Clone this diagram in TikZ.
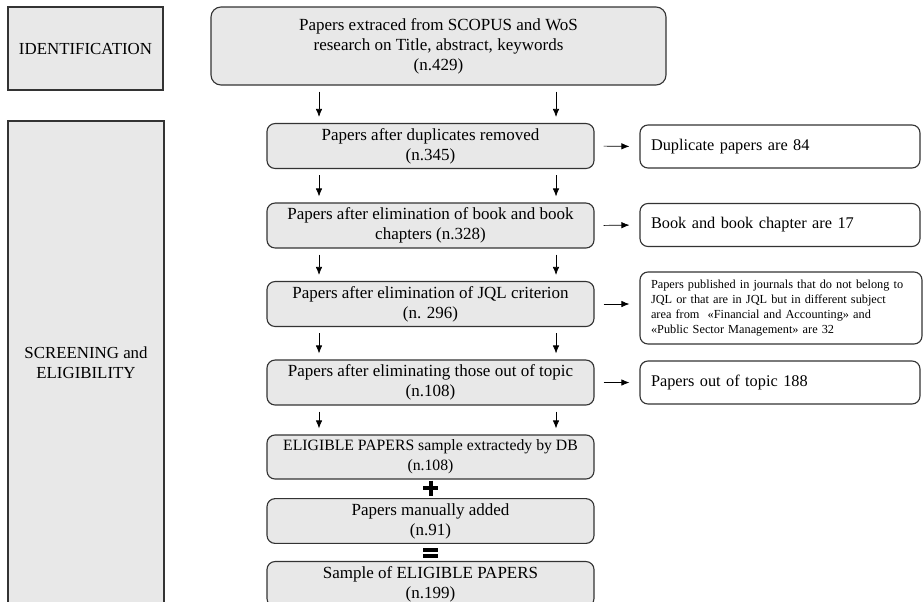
\documentclass[tikz,border=0pt]{standalone}
\usepackage{fontspec}
\setmainfont{Liberation Serif}
\usetikzlibrary{arrows.meta}

\tikzset{
  phase/.style={draw=black!80,
    fill=black!9,
    rectangle,
    line width=0.8pt,
    align=center,
    font=\fontsize{12}{14.2}\selectfont},
  stepbox/.style={draw=black!80,
    fill=black!9,
    rectangle,
    rounded corners=0.2cm,
    line width=0.8pt,
    align=center,
    font=\fontsize{12.1}{14.2}\selectfont,
    minimum width=8.175cm,
    minimum height=1.1cm},
  outbox/.style={draw=black!80,
    fill=white,
    rectangle,
    rounded corners=0.2cm,
    line width=0.8pt,
    align=left,
    inner xsep=0.275cm,
    text width=6.45cm,
    minimum height=1.075cm,
    font=\fontsize{11.6}{14.2}\selectfont},
  arr/.style={-{Latex[length=0.2cm,width=0.16cm]},
    line width=0.5pt,
    shorten <=0.15cm,
    shorten >=0.15cm},
  sidearr/.style={-{Latex[length=0.2cm,width=0.16cm]},
    line width=0.5pt,
    shorten <=0.225cm,
    shorten >=0.25cm}
}

\begin{document}
\begin{tikzpicture}
    \useasboundingbox (0cm,0cm) rectangle (23.1cm,-15.025cm);

    \node[phase,
    minimum width = 3.875cm,
    minimum height = 2.075cm
    ](ident) at (2.1375cm,-1.2125cm) {IDENTIFICATION};

    \node[phase,
    minimum width = 3.9cm,
    minimum height = 12.1cm
    ](screen) at (2.15cm,-9.075cm) {SCREENING and\\ELIGIBILITY};

    \node[stepbox,
    rounded corners=0.25cm,
    minimum width = 11.375cm,
    minimum height = 1.95cm
    ](extract) at (10.9625cm,-1.15cm) {Papers extraced from SCOPUS and WoS\\research on Title, abstract, keywords\\(n.429)};

    \node[stepbox
    ](dup) at (10.7625cm,-3.65cm) {Papers after duplicates removed\\(n.345)};

    \node[stepbox
    ](book) at (10.7625cm,-5.6375cm) {Papers after elimination of book and book\\chapters (n.328)};

    \node[stepbox
    ](jql) at (10.7625cm,-7.6cm) {Papers after elimination of JQL criterion\\(n. 296)};

    \node[stepbox
    ](topic) at (10.7625cm,-9.5625cm) {Papers after eliminating those out of topic\\(n.108)};

    \node[stepbox,
    font=\fontsize{11.2}{14.2}\selectfont
    ](elig) at (10.7625cm,-11.425cm) {ELIGIBLE PAPERS sample extractedy by DB\\(n.108)};

    \node[stepbox
    ](manual) at (10.7625cm,-13.025cm) {Papers manually added\\(n.91)};

    \node[stepbox
    ](sample) at (10.7625cm,-14.6cm) {Sample of ELIGIBLE PAPERS\\(n.199)};

    \node[outbox
    ](dupout) at (19.5cm,-3.6625cm) {Duplicate papers are 84};

    \node[outbox
    ](bookout) at (19.5cm,-5.625cm) {Book and book chapter are 17};

    \node[outbox,
    text width = 6.5cm,
    minimum height = 1.8cm,
    font=\fontsize{8.75}{10.7}\selectfont
    ](jqlout) at (19.525cm,-7.7cm) {Papers published in journals that do not belong to\\JQL or that are in JQL but in different subject\\area from \ «Financial and Accounting» and\\«Public Sector Management» are 32};

    \node[outbox
    ](topicout) at (19.5cm,-9.5625cm) {Papers out of topic 188};

    \coordinate (xl) at (7.975cm,0cm);
    \coordinate (xr) at (13.9cm,0cm);

    \draw[arr] (extract.south -| xl) -- (dup.north -| xl);
    \draw[arr] (extract.south -| xr) -- (dup.north -| xr);
    \draw[arr] (dup.south -| xl) -- (book.north -| xl);
    \draw[arr] (dup.south -| xr) -- (book.north -| xr);
    \draw[arr] (book.south -| xl) -- (jql.north -| xl);
    \draw[arr] (book.south -| xr) -- (jql.north -| xr);
    \draw[arr] (jql.south -| xl) -- (topic.north -| xl);
    \draw[arr] (jql.south -| xr) -- (topic.north -| xr);
    \draw[arr] (topic.south -| xl) -- (elig.north -| xl);
    \draw[arr] (topic.south -| xr) -- (elig.north -| xr);

    \draw[sidearr] (dup.east) -- (dupout.west);
    \draw[sidearr] (book.east) -- (bookout.west);
    \draw[sidearr] (jql.east) -- (jql.east -| jqlout.west);
    \draw[sidearr] (topic.east) -- (topicout.west);

    \draw[line width=0.1cm] (10.575cm,-12.2cm) -- (10.95cm,-12.2cm);
    \draw[line width=0.1cm] (10.7625cm,-12.0125cm) -- (10.7625cm,-12.3875cm);

    \draw[line width=0.09cm] (10.575cm,-13.75cm) -- (10.95cm,-13.75cm);
    \draw[line width=0.09cm] (10.575cm,-13.9cm) -- (10.95cm,-13.9cm);

\end{tikzpicture}
\end{document}
